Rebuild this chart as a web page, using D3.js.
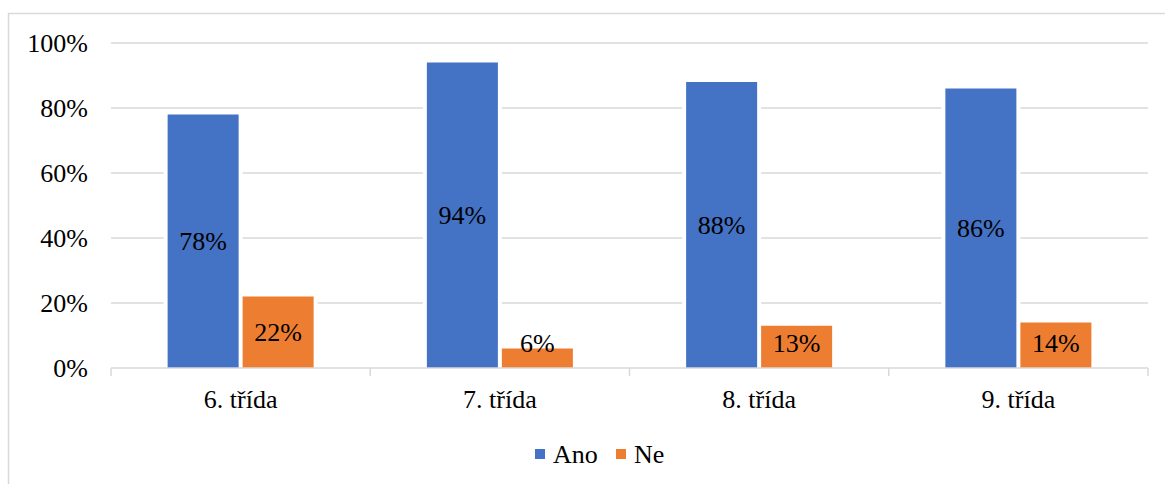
<!DOCTYPE html>
<html>
<head>
<meta charset="utf-8">
<script src="https://cdn.jsdelivr.net/npm/d3@7"></script>
<style>
  html, body { margin: 0; padding: 0; background: #fff; }
  svg { display: block; }
</style>
</head>
<body>
<svg id="chart" width="1165" height="484"></svg>
<script>
const categories = ["6. třída", "7. třída", "8. třída", "9. třída"];
const seriesNames = ["Ano", "Ne"];
const anoValues = [78, 94, 88, 86];
const neValues = [22, 6, 13, 14];
const yTicks = [0, 20, 40, 60, 80, 100];
const colors = ["#4472C4", "#ED7D31"];

const FONT = "'Liberation Serif'";
const values = [anoValues, neValues];
const svg = d3.select("#chart");
const W = 1165, H = 484;
const plot = { left: 111, right: 1148, top: 43, bottom: 368 };
const fontSize = 26;

// outer border
svg.append("rect")
  .attr("x", 8.5).attr("y", 13.5)
  .attr("width", W + 10).attr("height", H + 10)
  .attr("fill", "#fff").attr("stroke", "#d9d9d9").attr("stroke-width", 1.5);

const y = d3.scaleLinear().domain([0, 100]).range([plot.bottom, plot.top]);
const x0 = d3.scaleBand().domain(categories).range([plot.left, plot.right]).padding(0);
const bw = x0.bandwidth();
const groupW = 146;
const x1 = d3.scaleBand().domain(seriesNames)
  .range([bw / 2 - groupW / 2, bw / 2 + groupW / 2])
  .paddingInner(0.0533).paddingOuter(0);

// gridlines
svg.append("g")
  .selectAll("line")
  .data(yTicks.filter(t => t > 0))
  .join("line")
  .attr("x1", plot.left).attr("x2", plot.right)
  .attr("y1", d => y(d)).attr("y2", d => y(d))
  .attr("stroke", "#d9d9d9").attr("stroke-width", 1.5);

// y axis labels
const yAxis = d3.axisLeft(y).tickValues(yTicks).tickSize(0).tickPadding(23).tickFormat(d => d + "%");
const gy = svg.append("g").attr("transform", `translate(${plot.left},0)`).call(yAxis);
gy.select(".domain").remove();
gy.attr("font-family", FONT).attr("font-size", fontSize);
gy.selectAll("text")
  .style("font-family", FONT)
  .style("font-size", fontSize + "px").attr("fill", "#000");

// bars
const groups = svg.append("g").selectAll("g")
  .data(categories)
  .join("g")
  .attr("transform", d => `translate(${x0(d)},0)`);

seriesNames.forEach((s, si) => {
  groups.append("rect")
    .attr("x", () => x1(s))
    .attr("y", (d, i) => y(values[si][i]))
    .attr("width", x1.bandwidth())
    .attr("height", (d, i) => y(0) - y(values[si][i]))
    .attr("fill", "#fff").attr("stroke", "#fff").attr("stroke-width", 8);
});
seriesNames.forEach((s, si) => {
  groups.append("rect")
    .attr("x", () => x1(s))
    .attr("y", (d, i) => y(values[si][i]))
    .attr("width", x1.bandwidth())
    .attr("height", (d, i) => y(0) - y(values[si][i]))
    .attr("fill", colors[si]);
});

// x axis
const gx = svg.append("g").attr("transform", `translate(0,${plot.bottom})`);
gx.append("line")
  .attr("x1", plot.left).attr("x2", plot.right)
  .attr("y1", 0).attr("y2", 0)
  .attr("stroke", "#d9d9d9").attr("stroke-width", 1.5);
const boundaries = categories.map(c => x0(c)).concat([plot.right]);
gx.selectAll("line.tick")
  .data(boundaries)
  .join("line")
  .attr("class", "tick")
  .attr("x1", d => d).attr("x2", d => d)
  .attr("y1", 0).attr("y2", 8)
  .attr("stroke", "#d9d9d9").attr("stroke-width", 1.5);
gx.selectAll("text.cat")
  .data(categories)
  .join("text")
  .attr("class", "cat")
  .attr("x", d => x0(d) + bw / 2)
  .attr("y", 40)
  .attr("text-anchor", "middle")
  .style("font-family", FONT)
  .style("font-size", fontSize + "px")
  .attr("fill", "#000")
  .text(d => d);

// data labels
seriesNames.forEach((s, si) => {
  groups.append("text")
    .attr("x", () => x1(s) + x1.bandwidth() / 2)
    .attr("y", (d, i) => {
      const v = values[si][i];
      const mid = (y(v) + y(0)) / 2;
      return Math.min(mid, y(0) - 25);
    })
    .attr("dy", "0.35em")
    .attr("text-anchor", "middle")
    .style("font-family", FONT)
    .style("font-size", fontSize + "px")
    .attr("fill", "#000")
    .text((d, i) => values[si][i] + "%");
});

// legend
const legendItems = [
  { name: seriesNames[0], color: colors[0], x: 535 },
  { name: seriesNames[1], color: colors[1], x: 616 }
];
const lg = svg.append("g").attr("transform", "translate(0,449)");
const li = lg.selectAll("g").data(legendItems).join("g")
  .attr("transform", d => `translate(${d.x},0)`);
li.append("rect").attr("width", 10).attr("height", 10).attr("fill", d => d.color);
li.append("text").attr("x", 18).attr("y", 14)
  .style("font-family", FONT)
  .style("font-size", fontSize + "px")
  .attr("fill", "#000")
  .text(d => d.name);
</script>
</body>
</html>
